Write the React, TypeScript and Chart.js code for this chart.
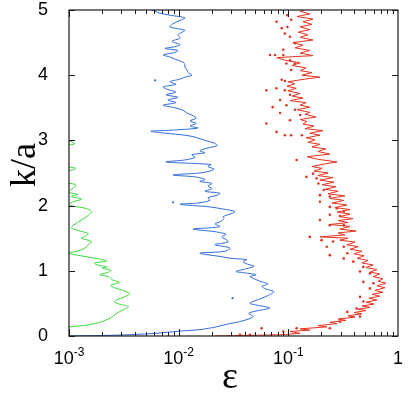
import React, { useEffect, useRef } from "react";
import { Chart, registerables } from "chart.js";

Chart.register(...registerables);

// ---- data ----
const greenK = [0.13, 0.14, 0.17, 0.22, 0.28, 0.32, 0.36, 0.40, 0.45, 0.48, 0.52, 0.55, 0.60, 0.65, 0.70, 0.74, 0.78, 0.82, 0.86, 0.91, 0.94, 0.98, 1.01, 1.04, 1.06, 1.09, 1.12, 1.15, 1.18, 1.22, 1.27, 1.30, 1.35, 1.40, 1.45, 1.50, 1.53, 1.57, 1.62, 1.66, 1.70, 1.78, 1.85, 1.91, 1.96, 2.01, 2.06, 2.10, 2.14, 2.17, 2.21, 2.27, 2.32, 2.35, 2.42, 2.50, 2.57, 2.62, 2.75, 2.90, 2.95, 3.00, 3.03];
const greenEps = [0.00095, 0.00102, 0.0015, 0.0020, 0.0024, 0.0026, 0.0028, 0.0031, 0.0035, 0.0030, 0.0026, 0.0027, 0.0032, 0.0036, 0.0031, 0.0026, 0.0024, 0.0029, 0.0025, 0.0023, 0.0019, 0.0023, 0.0024, 0.0020, 0.0022, 0.0018, 0.0017, 0.0022, 0.0019, 0.0014, 0.00098, 0.0012, 0.0014, 0.0015, 0.0016, 0.0013, 0.0014, 0.0015, 0.0012, 0.00105, 0.0011, 0.0013, 0.0015, 0.0016, 0.0014, 0.00098, 0.0011, 0.0013, 0.00105, 0.0012, 0.00098, 0.0011, 0.00115, 0.00098, 0.0009, 0.0009, 0.00115, 0.0009, 0.0009, 0.0009, 0.00113, 0.00098, 0.0009];

const blueK = [0.00, 0.015, 0.04, 0.075, 0.10, 0.14, 0.19, 0.22, 0.27, 0.30, 0.35, 0.40, 0.43, 0.47, 0.50, 0.54, 0.58, 0.62, 0.68, 0.72, 0.76, 0.80, 0.84, 0.88, 0.91, 0.94, 0.97, 0.99, 1.03, 1.07, 1.10, 1.14, 1.17, 1.19, 1.22, 1.27, 1.30, 1.35, 1.40, 1.44, 1.47, 1.52, 1.56, 1.60, 1.64, 1.66, 1.68, 1.72, 1.75, 1.80, 1.83, 1.87, 1.91, 1.95, 1.98, 2.02, 2.04, 2.08, 2.12, 2.16, 2.19, 2.22, 2.26, 2.30, 2.34, 2.37, 2.40, 2.44, 2.47, 2.50, 2.53, 2.56, 2.60, 2.63, 2.67, 2.70, 2.74, 2.78, 2.81, 2.84, 2.88, 2.92, 2.96, 3.00, 3.05, 3.08, 3.11, 3.14, 3.16, 3.19, 3.22, 3.26, 3.30, 3.34, 3.38, 3.42, 3.46, 3.50, 3.54, 3.58, 3.62, 3.66, 3.70, 3.74, 3.78, 3.82, 3.86, 3.90, 3.94, 3.97, 4.00, 4.04, 4.08, 4.12, 4.16, 4.20, 4.24, 4.28, 4.31, 4.35, 4.38, 4.41, 4.44, 4.47, 4.52, 4.57, 4.62, 4.66, 4.69, 4.74, 4.79, 4.84, 4.88, 4.92, 4.95, 4.98, 5.02];
const blueEps = [0.00100, 0.0030, 0.0060, 0.0103, 0.0160, 0.0220, 0.0290, 0.0360, 0.0450, 0.0476, 0.0437, 0.0575, 0.0680, 0.0530, 0.0447, 0.0497, 0.0575, 0.0652, 0.0740, 0.0625, 0.0575, 0.0652, 0.0551, 0.0486, 0.0447, 0.0508, 0.0393, 0.0333, 0.0410, 0.0486, 0.0428, 0.0385, 0.0419, 0.0307, 0.0238, 0.0156, 0.0264, 0.0294, 0.0214, 0.0282, 0.0276, 0.0248, 0.0270, 0.0214, 0.0135, 0.0193, 0.0238, 0.0214, 0.0238, 0.0259, 0.0254, 0.0294, 0.0326, 0.0248, 0.0193, 0.0103, 0.0150, 0.0193, 0.0185, 0.0224, 0.0238, 0.0174, 0.0201, 0.0185, 0.0201, 0.0156, 0.0174, 0.0141, 0.00888, 0.0156, 0.0193, 0.0210, 0.0185, 0.0197, 0.00766, 0.0114, 0.0141, 0.0132, 0.0174, 0.0156, 0.0181, 0.0224, 0.0210, 0.0174, 0.0141, 0.0114, 0.00766, 0.00558, 0.00925, 0.0150, 0.0127, 0.0144, 0.0127, 0.0144, 0.0135, 0.0119, 0.0110, 0.00925, 0.00722, 0.00945, 0.00798, 0.00985, 0.00766, 0.00945, 0.00798, 0.00722, 0.00945, 0.00834, 0.0103, 0.0114, 0.0132, 0.0122, 0.0119, 0.0114, 0.0114, 0.0110, 0.00945, 0.00834, 0.00722, 0.00925, 0.00985, 0.00750, 0.00945, 0.0103, 0.00870, 0.0103, 0.00985, 0.0107, 0.0114, 0.00834, 0.00888, 0.0103, 0.0114, 0.00834, 0.00676, 0.00608, 0.00547];
const blueDotK = [3.92, 2.05, 0.58];
const blueDotEps = [0.0061, 0.0089, 0.031];

const redK = [0.00, 0.01, 0.02, 0.04, 0.07, 0.09, 0.11, 0.14, 0.16, 0.19, 0.21, 0.24, 0.26, 0.29, 0.31, 0.34, 0.36, 0.39, 0.41, 0.44, 0.46, 0.49, 0.52, 0.55, 0.58, 0.61, 0.64, 0.67, 0.70, 0.74, 0.77, 0.81, 0.84, 0.88, 0.91, 0.95, 0.98, 1.02, 1.05, 1.09, 1.12, 1.16, 1.19, 1.23, 1.26, 1.30, 1.33, 1.37, 1.40, 1.44, 1.47, 1.50, 1.52, 1.55, 1.58, 1.61, 1.64, 1.68, 1.71, 1.74, 1.77, 1.80, 1.83, 1.87, 1.90, 1.94, 1.97, 2.01, 2.04, 2.08, 2.11, 2.15, 2.18, 2.22, 2.25, 2.29, 2.32, 2.36, 2.39, 2.43, 2.46, 2.50, 2.53, 2.57, 2.60, 2.64, 2.67, 2.71, 2.75, 2.79, 2.83, 2.87, 2.90, 2.94, 2.97, 3.01, 3.04, 3.08, 3.11, 3.15, 3.18, 3.22, 3.25, 3.29, 3.32, 3.36, 3.40, 3.43, 3.47, 3.51, 3.54, 3.58, 3.61, 3.65, 3.68, 3.72, 3.76, 3.80, 3.83, 3.87, 3.90, 3.94, 3.97, 4.00, 4.04, 4.07, 4.11, 4.15, 4.19, 4.23, 4.27, 4.30, 4.34, 4.38, 4.42, 4.46, 4.50, 4.54, 4.58, 4.62, 4.66, 4.70, 4.74, 4.78, 4.82, 4.86, 4.90, 4.94, 4.98, 5.02];
const redEps = [0.0214, 0.0447, 0.0838, 0.128, 0.1035, 0.157, 0.128, 0.225, 0.186, 0.278, 0.239, 0.335, 0.284, 0.406, 0.350, 0.470, 0.397, 0.511, 0.432, 0.555, 0.470, 0.605, 0.511, 0.644, 0.543, 0.684, 0.580, 0.730, 0.617, 0.761, 0.644, 0.777, 0.658, 0.730, 0.592, 0.684, 0.555, 0.644, 0.511, 0.592, 0.470, 0.533, 0.424, 0.490, 0.397, 0.470, 0.365, 0.432, 0.342, 0.406, 0.295, 0.350, 0.194, 0.328, 0.284, 0.415, 0.295, 0.365, 0.239, 0.350, 0.284, 0.389, 0.295, 0.365, 0.278, 0.365, 0.266, 0.342, 0.250, 0.321, 0.239, 0.328, 0.230, 0.284, 0.216, 0.272, 0.203, 0.261, 0.194, 0.255, 0.186, 0.230, 0.171, 0.203, 0.164, 0.216, 0.278, 0.186, 0.148, 0.239, 0.186, 0.220, 0.164, 0.194, 0.151, 0.175, 0.145, 0.194, 0.157, 0.207, 0.142, 0.171, 0.136, 0.148, 0.128, 0.179, 0.142, 0.157, 0.120, 0.157, 0.128, 0.145, 0.1035, 0.136, 0.108, 0.128, 0.0992, 0.118, 0.0971, 0.115, 0.0992, 0.142, 0.194, 0.133, 0.164, 0.128, 0.145, 0.108, 0.128, 0.0931, 0.0786, 0.168, 0.128, 0.157, 0.115, 0.136, 0.110, 0.168, 0.128, 0.151, 0.123, 0.157, 0.128, 0.164, 0.136, 0.168, 0.120, 0.157, 0.128, 0.151];

const redDotK = [4.92, 4.85, 4.82, 4.74, 4.72, 4.64, 4.59, 4.49, 4.39, 4.31, 4.31, 4.31, 4.23, 4.18, 4.18, 4.08, 3.93, 3.91, 3.77, 3.80, 3.77, 3.70, 3.62, 3.54, 3.51, 3.42, 3.47, 3.39, 3.31, 3.26, 3.13, 3.08, 3.08, 3.08, 2.70, 2.44, 2.49, 2.42, 2.34, 2.24, 2.16, 2.14, 2.06, 1.98, 1.96, 1.91, 1.86, 1.84, 1.78, 1.70, 1.70, 1.52, 1.47, 1.45, 1.37, 1.37, 1.24, 1.27, 1.19, 1.14, 1.06, 0.99, 0.96, 0.83, 0.81, 0.73, 0.60, 0.53, 0.42, 0.37, 0.30, 0.22, 0.12, 0.12, 0.07, 0.12, 0.02, 0.02];
const redDotEps = [0.098, 0.106, 0.078, 0.098, 0.087, 0.093, 0.1035, 0.115, 0.090, 0.068, 0.0755, 0.090, 0.1035, 0.096, 0.115, 0.106, 0.087, 0.093, 0.063, 0.078, 0.093, 0.1035, 0.084, 0.096, 0.072, 0.084, 0.115, 0.128, 0.1035, 0.063, 0.078, 0.093, 0.106, 0.133, 0.119, 0.146, 0.168, 0.181, 0.188, 0.210, 0.194, 0.239, 0.194, 0.239, 0.277, 0.320, 0.239, 0.295, 0.194, 0.239, 0.320, 0.157, 0.201, 0.256, 0.224, 0.320, 0.239, 0.345, 0.320, 0.391, 0.483, 0.450, 0.555, 0.483, 0.596, 0.555, 0.450, 0.483, 0.419, 0.345, 0.450, 0.295, 0.239, 0.119, 0.090, 0.057, 0.0447, 0.0362];

const yTickValues = [0, 1, 2, 3, 4, 5];
const xTickValues = [0.001, 0.01, 0.1, 1];
const xTickBase = ["10", "10", "10", "1"];
const xTickExp = ["-3", "-2", "-1", ""];
const xTitle = "ε";
const yTitle = "k/a";

const GREEN = "#35d935";
const BLUE = "#2f6bd9";
const RED = "#e5321f";

function zip(ks: number[], es: number[]) {
  return ks.map((k, i) => ({ x: es[i], y: k }));
}

const framePlugin = {
  id: "frame",
  afterDraw(chart: any) {
    const { ctx, chartArea: a, scales } = chart;
    const xs = scales.x;
    const ys = scales.y;
    ctx.save();
    ctx.strokeStyle = "#1a1a1a";
    ctx.lineWidth = 1.2;
    ctx.strokeRect(a.left, a.top, a.right - a.left, a.bottom - a.top);
    ctx.lineWidth = 1;
    ctx.beginPath();
    // x ticks (major & minor), bottom and top, inward
    for (let d = 0; d < xTickValues.length - 1; d++) {
      for (let m = 1; m <= 9; m++) {
        const v = xTickValues[d] * m;
        const px = Math.round(xs.getPixelForValue(v)) + 0.5;
        const len = m === 1 ? 7 : 4;
        ctx.moveTo(px, a.bottom);
        ctx.lineTo(px, a.bottom - len);
        ctx.moveTo(px, a.top);
        ctx.lineTo(px, a.top + len);
      }
    }
    for (const v of yTickValues) {
      const py = Math.round(ys.getPixelForValue(v)) + 0.5;
      ctx.moveTo(a.left, py);
      ctx.lineTo(a.left + 6, py);
      ctx.moveTo(a.right, py);
      ctx.lineTo(a.right - 6, py);
    }
    ctx.stroke();

    // x tick labels with superscript exponent
    ctx.fillStyle = "#000";
    ctx.textBaseline = "alphabetic";
    ctx.textAlign = "left";
    const baseFont = "18px 'Liberation Sans', Arial, sans-serif";
    const expFont = "12px 'Liberation Sans', Arial, sans-serif";
    xTickValues.forEach((v, i) => {
      const px = xs.getPixelForValue(v);
      ctx.font = baseFont;
      const wb = ctx.measureText(xTickBase[i]).width;
      ctx.font = expFont;
      const we = xTickExp[i] ? ctx.measureText(xTickExp[i]).width : 0;
      const start = px - (wb + we) / 2;
      ctx.font = baseFont;
      ctx.fillText(xTickBase[i], start, 364);
      if (xTickExp[i]) {
        ctx.font = expFont;
        ctx.fillText(xTickExp[i], start + wb, 356);
      }
    });

    // axis titles
    ctx.textAlign = "center";
    ctx.textBaseline = "middle";
    ctx.font = "38px 'Liberation Serif', 'Times New Roman', serif";
    ctx.fillText(xTitle, 230, 378);
    ctx.save();
    ctx.translate(26, 165);
    ctx.rotate(-Math.PI / 2);
    ctx.font = "36px 'Liberation Serif', 'Times New Roman', serif";
    ctx.fillText(yTitle, 0, 0);
    ctx.restore();
    ctx.restore();
  },
};

export default function App() {
  const ref = useRef<HTMLCanvasElement | null>(null);
  useEffect(() => {
    if (!ref.current) return;
    const lineDs = (label: string, data: any, color: string, tension: number) => ({
      label,
      data,
      showLine: true,
      borderColor: color,
      backgroundColor: color,
      borderWidth: 1,
      pointRadius: 0,
      tension,
      clip: 0,
    });
    const dotDs = (label: string, data: any, color: string, r: number) => ({
      label,
      data,
      showLine: false,
      borderWidth: 0,
      backgroundColor: color,
      pointRadius: r,
      pointHoverRadius: r,
      clip: 0,
    });
    const chart = new Chart(ref.current, {
      type: "scatter",
      data: {
        datasets: [
          lineDs("green", zip(greenK, greenEps), GREEN, 0.3),
          lineDs("blue", zip(blueK, blueEps), BLUE, 0.3),
          dotDs("blue dots", zip(blueDotK, blueDotEps), BLUE, 1.1),
          lineDs("red", zip(redK, redEps), RED, 0),
          dotDs("red dots", zip(redDotK, redDotEps), RED, 1.3),
        ] as any,
      },
      options: {
        responsive: false,
        animation: false,
        events: [],
        layout: { padding: { left: 0, top: 10, right: 11, bottom: 0 } },
        plugins: { legend: { display: false }, tooltip: { enabled: false } },
        scales: {
          x: {
            type: "logarithmic",
            min: 0.001,
            max: 1,
            grid: { display: false },
            border: { display: false },
            ticks: { display: false },
            afterFit: (s: any) => {
              s.height = 63;
              s.paddingLeft = 0;
              s.paddingRight = 0;
            },
          },
          y: {
            type: "linear",
            min: 0,
            max: 5,
            grid: { display: false },
            border: { display: false },
            ticks: {
              stepSize: 1,
              padding: 13,
              color: "#000",
              font: { family: "'Liberation Sans', Arial, sans-serif", size: 18 },
              callback: (v: any) => String(v),
            },
            afterFit: (s: any) => {
              s.width = 69;
              s.paddingTop = 0;
              s.paddingBottom = 0;
            },
          },
        },
      },
      plugins: [framePlugin],
    });
    return () => chart.destroy();
  }, []);
  return (
    <div style={{ position: "absolute", left: 0, top: 0, width: 409, height: 399, background: "#fff" }}>
      <canvas ref={ref} width={409} height={399} style={{ display: "block" }} />
    </div>
  );
}
